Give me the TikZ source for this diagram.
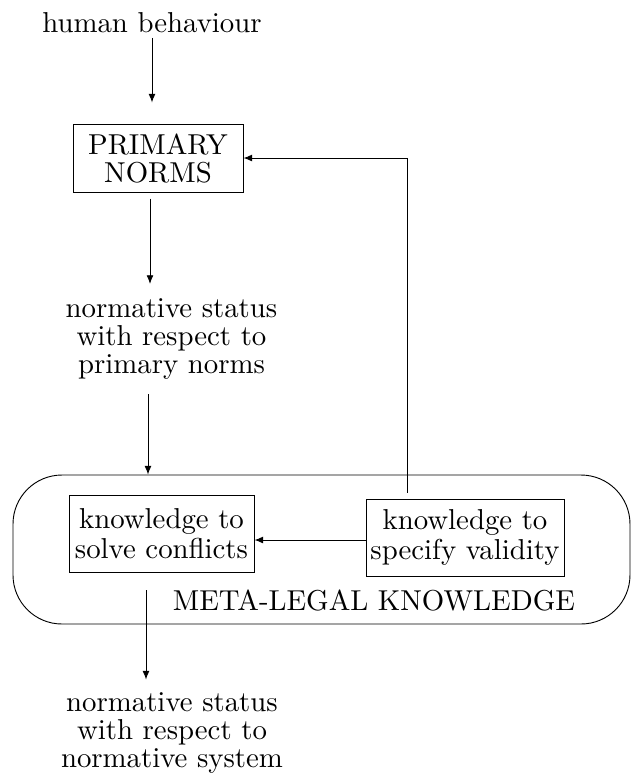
\documentclass[tikz,border=0pt]{standalone}
\usetikzlibrary{arrows.meta}
\begin{document}
\begin{tikzpicture}[x=0.3472pt,y=-0.3472pt,
  txt/.style={font=\fontsize{10}{9.72}\selectfont, align=center, inner sep=0pt},
  boxnode/.style={draw, line width=0.32pt, inner sep=0pt, align=center, font=\fontsize{10}{10.6}\selectfont},
  arr/.style={-{Latex[length=3pt,width=2.4pt]}, line width=0.32pt}]
\useasboundingbox (0,0) rectangle (631,777);
\node[txt, anchor=base, inner sep=1.74pt] (hb) at (152,32) {human behaviour};
\node[boxnode, minimum width=59.02pt, minimum height=23.61pt, font=\fontsize{10}{9.72}\selectfont] (pn) at (158,158) {PRIMARY\\NORMS};
\node[txt] (s1) at (171.5,338.7) {normative status\\with respect to\\primary norms};
\node[draw, line width=0.32pt, rounded corners=17pt, minimum width=214.22pt, minimum height=51.73pt, inner sep=0pt] (meta) at (321.5,549.5) {};
\node[boxnode, minimum width=64.23pt, minimum height=26.73pt] (kc) at (161.5,533.5) {knowledge to\\solve conflicts};
\node[boxnode, minimum width=68.75pt, minimum height=26.73pt] (kv) at (465,537.5) {knowledge to\\specify validity};
\node[txt, anchor=base] (ml) at (374,610) {META-LEGAL KNOWLEDGE};
\node[txt] (s2) at (172,733.2) {normative status\\with respect to\\normative system};
\coordinate (cA) at (150,0);
\coordinate (cB) at (148,0);
\coordinate (cC) at (146,0);
\coordinate (cD) at (407,0);
\coordinate (cE) at (0,540);
\draw[arr, shorten >=7.3pt] (hb.south) -- (hb.south |- pn.north);
\draw[arr, shorten <=2.1pt, shorten >=4.8pt] (cA |- pn.south) -- (cA |- s1.north);
\draw[arr, shorten <=5pt] (cB |- s1.south) -- (cB |- meta.north);
\draw[arr, shorten <=6.25pt, shorten >=4.4pt] (cC |- kc.south) -- (cC |- s2.north);
\draw[arr, shorten <=2pt] (cD |- kv.north) |- (pn.east);
\draw[arr] (kv.west |- cE) -- (kc.east |- cE);
\end{tikzpicture}
\end{document}
